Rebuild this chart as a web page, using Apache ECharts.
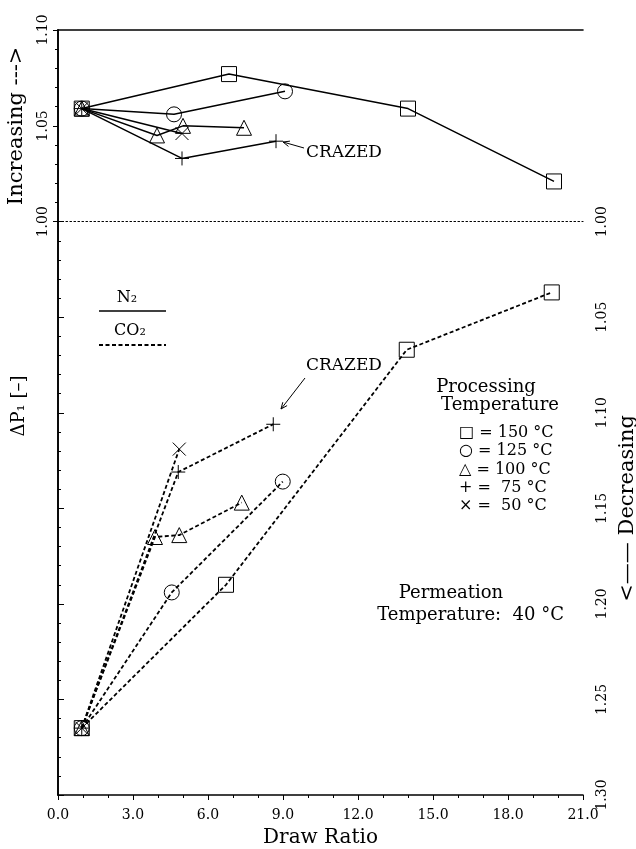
<!DOCTYPE html>
<html>
<head>
<meta charset="utf-8">
<script src="https://cdn.jsdelivr.net/npm/echarts@6/dist/echarts.min.js"></script>
<style>html,body{margin:0;padding:0;background:#fff}#c{width:636px;height:849px}</style>
</head>
<body>
<div id="c"></div>
<script>
// ---- data (x = draw ratio, y = ΔP1) ----
const temps = ['150', '125', '100', '75', '50'];
// N2 (upper panel, increasing)
const n2_150 = [[0.95, 1.059], [6.84, 1.077], [14.0, 1.059], [19.84, 1.021]];
const n2_125 = [[0.95, 1.059], [4.64, 1.056], [9.08, 1.068]];
const n2_100 = [[0.95, 1.059], [3.96, 1.045], [5.0, 1.050], [7.44, 1.049]];
const n2_75  = [[0.95, 1.059], [4.96, 1.033], [8.72, 1.042]];
const n2_50  = [[0.95, 1.059], [4.96, 1.046]];
// CO2 (lower panel, decreasing)
const co2_150 = [[0.95, 1.265], [6.72, 1.190], [13.95, 1.067], [19.75, 1.037]];
const co2_125 = [[0.95, 1.265], [4.55, 1.194], [8.99, 1.136]];
const co2_100 = [[0.95, 1.265], [3.88, 1.165], [4.85, 1.164], [7.35, 1.147]];
const co2_75  = [[0.95, 1.265], [4.81, 1.131], [8.61, 1.106]];
const co2_50  = [[0.95, 1.265], [4.85, 1.119]];
const xTickLabels = ['0.0', '3.0', '6.0', '9.0', '12.0', '15.0', '18.0', '21.0'];
const upTickLabels = ['1.00', '1.05', '1.10'];
const downTickLabels = ['1.00', '1.05', '1.10', '1.15', '1.20', '1.25', '1.30'];

const SERIF = '"DejaVu Serif", "Liberation Serif", serif';
const symbols = {
  '150': 'rect', '125': 'circle', '100': 'triangle',
  '75': 'path://M5,0L5,10M0,5L10,5',
  '50': 'path://M0,0L10,10M10,0L0,10'
};
const sizes = {'150': 15, '125': 15, '100': 15, '75': 14, '50': 13};

function mk(data, t, lower) {
  return {
    type: 'line', data: data, xAxisIndex: lower ? 2 : 0, yAxisIndex: lower ? 2 : 0,
    symbol: symbols[t], symbolSize: sizes[t], showSymbol: true,
    color: '#000',
    lineStyle: {color: '#000', width: lower ? 1.8 : 1.5, type: lower ? [4, 2.5] : 'solid'},
    itemStyle: {color: 'rgba(0,0,0,0)', borderColor: '#000', borderWidth: 1},
    emphasis: {disabled: true}, silent: true, z: 3
  };
}
const n2 = [n2_150, n2_125, n2_100, n2_75, n2_50];
const co2 = [co2_150, co2_125, co2_100, co2_75, co2_50];
const series = [];
temps.forEach((t, i) => series.push(mk(n2[i], t, false)));
temps.forEach((t, i) => series.push(mk(co2[i], t, true)));

const axLine = {show: true, lineStyle: {color: '#000', width: 1.6}};
const lab = {fontFamily: SERIF, fontSize: 14, color: '#000'};

function arrow(x1, y1, x2, y2) {
  const a = Math.atan2(y2 - y1, x2 - x1), L = 7, w = 0.4;
  return [
    {type: 'line', shape: {x1, y1, x2, y2}, style: {stroke: '#000', lineWidth: 1}},
    {type: 'polyline', shape: {points: [
      [x2 - L * Math.cos(a - w), y2 - L * Math.sin(a - w)], [x2, y2],
      [x2 - L * Math.cos(a + w), y2 - L * Math.sin(a + w)]]},
      style: {stroke: '#000', lineWidth: 1, fill: null}}
  ];
}
function txt(x, y, text, size, align, rot) {
  return {type: 'text', x, y, rotation: rot || 0,
    style: {text, font: size + 'px ' + SERIF, fill: '#000', align: align || 'left', verticalAlign: 'middle'}};
}

const legendLines = [
  '\u25A1 = 150 \u00B0C', '\u25CB = 125 \u00B0C', '\u25B3 = 100 \u00B0C', '+ =  75 \u00B0C', '\u00D7 =  50 \u00B0C'
];

const graphic = [
  txt(306, 153, 'CRAZED', 17),
  ...arrow(304, 148, 283, 142),
  txt(306, 366, 'CRAZED', 17),
  ...arrow(305, 378, 281, 409),
  txt(127, 298, 'N\u2082', 16, 'center'),
  {type: 'line', shape: {x1: 99, y1: 311, x2: 166, y2: 311}, style: {stroke: '#000', lineWidth: 1.5}},
  txt(130, 331, 'CO\u2082', 16, 'center'),
  {type: 'line', shape: {x1: 99, y1: 345, x2: 166, y2: 345}, style: {stroke: '#000', lineWidth: 1.8, lineDash: [4, 2.5]}},
  txt(486, 387, 'Processing', 18, 'center'),
  txt(500, 405, 'Temperature', 18, 'center'),
  ...legendLines.map((s, i) => txt(459, 433 + i * 18.2, s, 16, 'left')),
  txt(451, 593, 'Permeation', 18, 'center'),
  txt(564, 615, 'Temperature:  40 \u00B0C', 18, 'right'),
  txt(19, 406, '\u0394P\u2081 [\u2013]', 18, 'center', Math.PI / 2)
];

const chart = echarts.init(document.getElementById('c'), null, {renderer: 'canvas'});
chart.setOption({
  animation: false,
  backgroundColor: '#fff',
  grid: [
    {left: 58, right: 53, top: 30, height: 191.7, outerBoundsMode: 'none', containLabel: false},
    {left: 58, right: 53, top: 221.7, bottom: 54, outerBoundsMode: 'none', containLabel: false}
  ],
  xAxis: [
    {gridIndex: 0, type: 'value', min: 0, max: 21, interval: 3, position: 'bottom',
     axisLine: {show: true, lineStyle: {color: '#000', width: 1.2, type: [1.5, 2.5]}},
     axisTick: {show: false}, axisLabel: {show: false}, splitLine: {show: false}},
    {gridIndex: 0, type: 'value', min: 0, max: 21, position: 'top',
     axisLine: axLine, axisTick: {show: false}, axisLabel: {show: false}, splitLine: {show: false}},
    {gridIndex: 1, type: 'value', min: 0, max: 21, interval: 3, position: 'bottom',
     axisLine: axLine, axisTick: {show: true, length: 5, lineStyle: {color: '#000'}},
     minorTick: {show: true, splitNumber: 3, length: 3, lineStyle: {color: '#000'}},
     axisLabel: Object.assign({margin: 13, formatter: (v) => xTickLabels[Math.round(v / 3)]}, lab),
     splitLine: {show: false},
     name: 'Draw Ratio', nameLocation: 'middle', nameGap: 33,
     nameTextStyle: {fontFamily: SERIF, fontSize: 20, color: '#000'}}
  ],
  yAxis: [
    {gridIndex: 0, type: 'value', min: 1.0, max: 1.10, interval: 0.05, position: 'left',
     axisLine: axLine, axisTick: {show: true, length: 5, lineStyle: {color: '#000'}},
     minorTick: {show: true, splitNumber: 5, length: 3, lineStyle: {color: '#000'}},
     axisLabel: Object.assign({rotate: 90, margin: 8, formatter: (v) => upTickLabels[Math.round((v - 1) / 0.05)]}, lab),
     splitLine: {show: false},
     name: 'Increasing --->', nameLocation: 'middle', nameGap: 31, nameRotate: 90,
     nameTextStyle: {fontFamily: SERIF, fontSize: 21, color: '#000'}},
    {gridIndex: 0, type: 'value', min: 1.0, max: 1.10, position: 'right',
     axisLine: axLine, axisTick: {show: false}, axisLabel: {show: false}, splitLine: {show: false}},
    {gridIndex: 1, type: 'value', min: 1.0, max: 1.30, interval: 0.05, inverse: true, position: 'right',
     axisLine: axLine, axisTick: {show: true, length: 6, lineStyle: {color: '#000'}},
     minorTick: {show: true, splitNumber: 5, length: 3, lineStyle: {color: '#000'}},
     axisLabel: Object.assign({rotate: 90, margin: 12, formatter: (v) => downTickLabels[Math.round((v - 1) / 0.05)]}, lab),
     splitLine: {show: false},
     name: '<\u2014\u2014 Decreasing', nameLocation: 'middle', nameGap: 29, nameRotate: 90,
     nameTextStyle: {fontFamily: SERIF, fontSize: 21, color: '#000'}},
    {gridIndex: 1, type: 'value', min: 1.0, max: 1.30, inverse: true, position: 'left',
     axisLine: axLine, axisTick: {show: false}, axisLabel: {show: false}, splitLine: {show: false}}
  ],
  series: series,
  graphic: graphic
});
</script>
</body>
</html>
